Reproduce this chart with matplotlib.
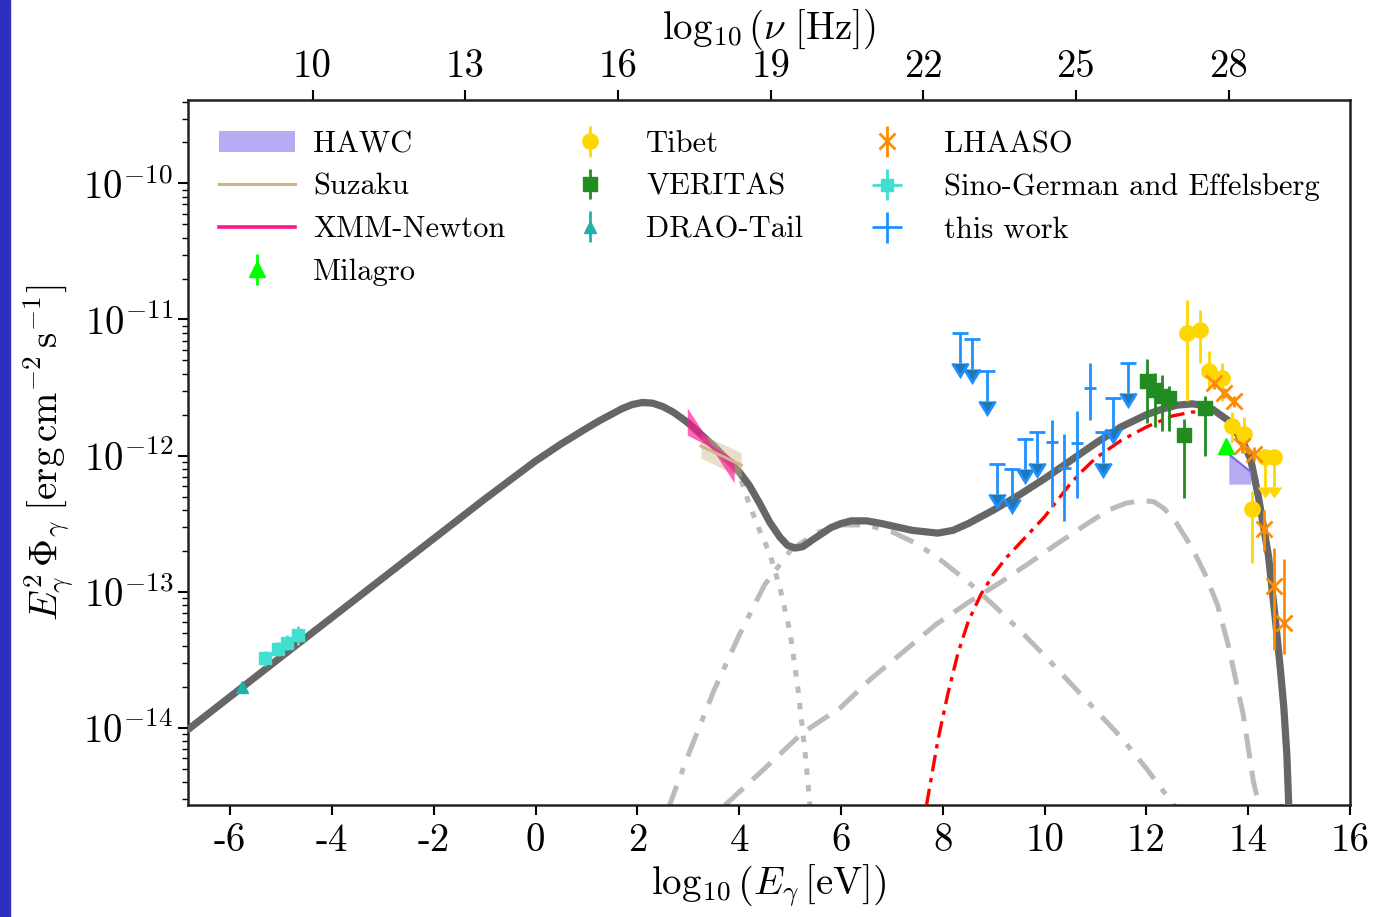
import matplotlib
matplotlib.use("Agg")
import matplotlib.pyplot as plt
import numpy as np
from matplotlib.lines import Line2D
from matplotlib.patches import Rectangle

plt.rcParams["font.family"] = "serif"
plt.rcParams["font.serif"] = ["cmr10"]
plt.rcParams["mathtext.fontset"] = "cm"
plt.rcParams["axes.unicode_minus"] = False
plt.rcParams["axes.formatter.use_mathtext"] = False

# ---- model curves: log10(E/eV) and log10(E^2 Phi / erg cm^-2 s^-1)
total_logE = [-6.85, -5.0, -3.0, -1.0, 0.0, 0.5, 1.0, 1.25, 1.5, 1.7, 1.9, 2.1, 2.3, 2.5,
              2.7, 3.0, 3.5, 4.0, 4.2, 4.4, 4.6, 4.8, 4.95, 5.1, 5.25, 5.4, 5.6, 5.8,
              6.0, 6.2, 6.5, 6.8, 7.4, 7.9, 8.2, 8.5, 9.0, 9.5, 10.0, 10.5, 11.0, 11.5,
              12.0, 12.3, 12.6, 12.9, 13.1, 13.3, 13.6, 13.9, 14.05, 14.2, 14.4, 14.53,
              14.63, 14.7, 14.76, 14.8]
total_logF = [-14.02, -13.48, -12.90, -12.32, -12.04, -11.915, -11.80, -11.745, -11.695,
              -11.655, -11.625, -11.61, -11.615, -11.64, -11.68, -11.76, -11.93, -12.12,
              -12.22, -12.35, -12.49, -12.60, -12.66, -12.68, -12.67, -12.63, -12.58,
              -12.53, -12.50, -12.48, -12.48, -12.50, -12.55, -12.57, -12.55, -12.50,
              -12.40, -12.29, -12.17, -12.04, -11.91, -11.79, -11.70, -11.66, -11.63,
              -11.62, -11.63, -11.66, -11.74, -11.90, -12.03, -12.30, -12.74, -13.19,
              -13.56, -13.85, -14.20, -14.60]

sync_logE = [-6.85, -3.0, 0.0, 1.0, 1.5, 1.9, 2.3, 2.7, 3.5, 4.0, 4.2, 4.4, 4.6, 4.8,
             5.0, 5.15, 5.3, 5.42]
sync_logF = [-14.02, -12.90, -12.04, -11.80, -11.695, -11.625, -11.615, -11.68, -11.93,
             -12.14, -12.36, -12.55, -12.72, -12.97, -13.30, -13.70, -14.20, -14.70]

brems_logE = [2.6, 3.0, 3.5, 4.0, 4.5, 5.0, 5.5, 6.0, 6.5, 7.0, 7.5, 8.0, 8.5, 9.0,
              9.5, 10.0, 10.5, 11.0, 11.5, 12.0, 12.6]
brems_logF = [-14.60, -14.20, -13.73, -13.32, -12.95, -12.70, -12.57, -12.51, -12.51,
              -12.56, -12.65, -12.78, -12.93, -13.10, -13.28, -13.47, -13.67, -13.87,
              -14.07, -14.30, -14.60]

ic_logE = [3.72, 4.5, 5.24, 6.0, 6.56, 7.2, 7.87, 8.5, 9.1, 9.7, 10.24, 10.8, 11.26,
           11.6, 11.93, 12.15, 12.35, 12.58, 12.9, 13.15, 13.4, 13.62, 13.9, 14.1, 14.23]
ic_logF = [-14.57, -14.30, -14.04, -13.85, -13.65, -13.45, -13.24, -13.08, -12.94,
           -12.79, -12.65, -12.51, -12.40, -12.35, -12.33, -12.34, -12.39, -12.49,
           -12.68, -12.87, -13.10, -13.41, -13.90, -14.39, -14.60]

pion_logE = [7.68, 7.9, 8.1, 8.3, 8.5, 8.75, 9.0, 9.25, 9.5, 9.75, 10.0, 10.25, 10.5,
             10.75, 11.0, 11.5, 12.0, 12.5, 12.9, 13.1]
pion_logF = [-14.57, -14.10, -13.75, -13.45, -13.22, -13.02, -12.87, -12.75, -12.65,
             -12.55, -12.45, -12.33, -12.21, -12.11, -12.02, -11.89, -11.79, -11.71,
             -11.68, -11.68]

# ---- data
sino_logE = [-5.31, -5.06, -4.88, -4.67]
sino_logF = [-13.49, -13.42, -13.38, -13.32]
sino_hi = [-13.44, -13.37, -13.32, -13.25]
sino_lo = [-13.55, -13.47, -13.43, -13.39]

drao_logE = [-5.77]
drao_logF = [-13.70]

suzaku_logE = [3.25, 4.04]
suzaku_logF = [-11.93, -12.07]
suzaku_hi = [-11.84, -11.98]
suzaku_lo = [-12.02, -12.16]

xmm_logE = [2.98, 3.45, 3.9]
xmm_logF = [-11.75, -11.93, -12.12]
xmm_hi = [-11.65, -11.92, -12.03]
xmm_lo = [-11.85, -11.94, -12.20]

hawc_logE = [13.62, 14.05]
hawc_hi = [-11.99, -12.12]
hawc_lo = [-12.21, -12.21]

milagro_logE = [13.56]
milagro_logF = [-11.93]

veritas_logE = [12.01, 12.17, 12.30, 12.44, 12.74, 13.15]
veritas_logF = [-11.45, -11.52, -11.56, -11.58, -11.85, -11.65]
veritas_hi = [-11.29, -11.39, -11.41, -11.49, -11.73, -11.56]
veritas_lo = [-11.76, -11.79, -11.82, -11.82, -12.31, -12.00]

tibet_logE = [12.80, 13.05, 13.23, 13.48, 13.68, 13.92, 14.07]
tibet_logF = [-11.10, -11.08, -11.375, -11.43, -11.78, -11.84, -12.39]
tibet_hi = [-10.86, -10.93, -11.23, -11.32, -11.68, -11.72, -12.26]
tibet_lo = [-11.60, -11.32, -11.50, -11.60, -11.90, -11.98, -12.79]
tibet_ul_logE = [14.33, 14.51]
tibet_ul_logF = [-12.01, -12.01]

lhaaso_logE = [13.33, 13.52, 13.72, 13.88, 14.11, 14.31, 14.51, 14.70]
lhaaso_logF = [-11.47, -11.54, -11.60, -11.93, -11.99, -12.54, -12.96, -13.23]
lhaaso_hi = [-11.43, -11.50, -11.56, -11.88, -11.94, -12.40, -12.68, -12.76]
lhaaso_lo = [-11.51, -11.58, -11.64, -11.98, -12.04, -12.70, -13.43, -13.46]

work_logE = [10.14, 10.39, 10.63, 10.89]
work_logF = [-11.90, -12.09, -11.91, -11.50]
work_hi = [-11.74, -11.84, -11.67, -11.32]
work_lo = [-12.38, -12.48, -12.31, -11.74]
work_ul_logE = [8.33, 8.58, 8.86, 9.07, 9.35, 9.61, 9.86, 11.14, 11.35, 11.64]
work_ul_logF = [-11.10, -11.14, -11.375, -12.06, -12.10, -11.875, -11.83, -11.83, -11.58, -11.32]

EV_TO_LOGHZ = 14.383


def pw(a):
    return 10.0 ** np.asarray(a, dtype=float)


def yerr_of(val, hi, lo):
    v, h, l = pw(val), pw(hi), pw(lo)
    return [v - l, h - v]


fig = plt.figure(figsize=(13.75, 9.17), dpi=100)
fig.patches.append(Rectangle((0, 0), 10 / 1375, 1, transform=fig.transFigure,
                             color="#2f2fbd", zorder=-1))
ax = fig.add_axes([0.1367, 0.1221, 0.8451, 0.7688])

# model curves
ax.plot(sync_logE, pw(sync_logF), color="#bbbbbb", lw=3.6, dashes=(1.3, 2.0), zorder=2)
ax.plot(brems_logE, pw(brems_logF), color="#bbbbbb", lw=3.6, dashes=(5, 2.5, 1.3, 2.5), zorder=2)
ax.plot(ic_logE, pw(ic_logF), color="#bbbbbb", lw=3.6, dashes=(5, 2.5), zorder=2)
ax.plot(pion_logE, pw(pion_logF), color="red", lw=2.4, dashes=(5, 2, 1.3, 2), zorder=3)
ax.plot(total_logE, pw(total_logF), color="#666666", lw=5.2, zorder=4,
        solid_joinstyle="round", solid_capstyle="butt")

# X-ray bands
ax.fill_between(suzaku_logE, pw(suzaku_lo), pw(suzaku_hi), color="tan", alpha=0.45, lw=0, zorder=5)
h_suzaku, = ax.plot(suzaku_logE, pw(suzaku_logF), color="tan", lw=2.2, zorder=6, label="Suzaku")
ax.fill_between(xmm_logE, pw(xmm_lo), pw(xmm_hi), color="deeppink", alpha=0.65, lw=0, zorder=5)
h_xmm = Line2D([], [], color="deeppink", lw=2.6, label="XMM-Newton")

# HAWC band
h_hawc = ax.fill_between(hawc_logE, pw(hawc_lo), pw(hawc_hi), color="#9d90f0", alpha=0.75,
                         lw=0, zorder=5, label="HAWC")
ax.plot(hawc_logE, pw(hawc_hi), color="#7b68ee", lw=1.5, zorder=5)

ebk = dict(elinewidth=2.0, capsize=0, zorder=7)

h_sino = ax.errorbar(sino_logE, pw(sino_logF), yerr=yerr_of(sino_logF, sino_hi, sino_lo),
                     xerr=0.05, fmt="s", color="turquoise", ms=8, label="Sino-German and Effelsberg", **ebk)
h_drao = ax.errorbar(drao_logE, pw(drao_logF), yerr=[pw(drao_logF) * 0.05, pw(drao_logF) * 0.05],
                     fmt="^", color="lightseagreen", ms=9, label="DRAO-Tail", **ebk)
h_mil = ax.errorbar(milagro_logE, pw(milagro_logF), yerr=[pw(milagro_logF) * 0.08, pw(milagro_logF) * 0.08],
                    fmt="^", color="lime", ms=11, label="Milagro", **ebk)
h_ver = ax.errorbar(veritas_logE, pw(veritas_logF), yerr=yerr_of(veritas_logF, veritas_hi, veritas_lo),
                    fmt="s", color="forestgreen", ms=10, label="VERITAS", **ebk)
h_tib = ax.errorbar(tibet_logE, pw(tibet_logF), yerr=yerr_of(tibet_logF, tibet_hi, tibet_lo),
                    fmt="o", color="gold", ms=11, label="Tibet", **ebk)
ax.errorbar(tibet_ul_logE, pw(tibet_ul_logF), yerr=pw(tibet_ul_logF) * 0.4, uplims=True,
            fmt="o", color="gold", ms=11, elinewidth=2.0, capsize=5, zorder=7)
h_lha = ax.errorbar(lhaaso_logE, pw(lhaaso_logF), yerr=yerr_of(lhaaso_logF, lhaaso_hi, lhaaso_lo),
                    fmt="x", color="darkorange", ms=11, mew=2.0, label="LHAASO", **ebk)
h_work = ax.errorbar(work_logE, pw(work_logF), yerr=yerr_of(work_logF, work_hi, work_lo),
                     xerr=0.12, fmt="none", ecolor="dodgerblue", label="this work", **ebk)
ax.errorbar(work_ul_logE, pw(work_ul_logF), yerr=pw(work_ul_logF) * 0.4, uplims=True,
            fmt="none", ecolor="dodgerblue", elinewidth=2.0, capsize=6, capthick=2.0, zorder=7)

ax.set_yscale("log")
ax.set_xlim(-6.83, 16.0)
ax.set_ylim(2.7e-15, 4.1e-10)
ax.set_xticks(np.arange(-6, 17, 2))

ax.tick_params(axis="both", which="major", labelsize=28, length=7, width=1.5, direction="out",
               top=False, right=False)
ax.tick_params(axis="y", which="minor", length=4, width=1.0, right=False)
ax.tick_params(axis="x", which="major", pad=6)
for sp in ax.spines.values():
    sp.set_linewidth(1.8)
    sp.set_color("#222222")

ax.set_xlabel(r"$\log_{10}\left(E_\gamma\,[\mathrm{eV}]\right)$", fontsize=28, labelpad=2)
ax.set_ylabel(r"$E_\gamma^2\,\Phi_\gamma\;[\mathrm{erg\,cm^{-2}\,s^{-1}}]$", fontsize=28, labelpad=6)

sec = ax.secondary_xaxis("top", functions=(lambda e: e + EV_TO_LOGHZ, lambda n: n - EV_TO_LOGHZ))
sec.set_xticks(np.arange(10, 29, 3))
sec.tick_params(labelsize=28, length=7, width=1.5, direction="out")
sec.set_xlabel(r"$\log_{10}\left(\nu\ [\mathrm{Hz}]\right)$", fontsize=28, labelpad=8)

handles = [h_hawc, h_suzaku, h_xmm, h_mil, h_tib, h_ver, h_drao, h_lha, h_sino, h_work]
ax.legend(handles=handles, labels=[h.get_label() for h in handles], ncol=3, loc="upper left",
          frameon=False, fontsize=22, handlelength=2.5, handletextpad=0.6, columnspacing=1.5,
          labelspacing=0.5, borderaxespad=0.6)

fig.savefig("out.png", dpi=100)
